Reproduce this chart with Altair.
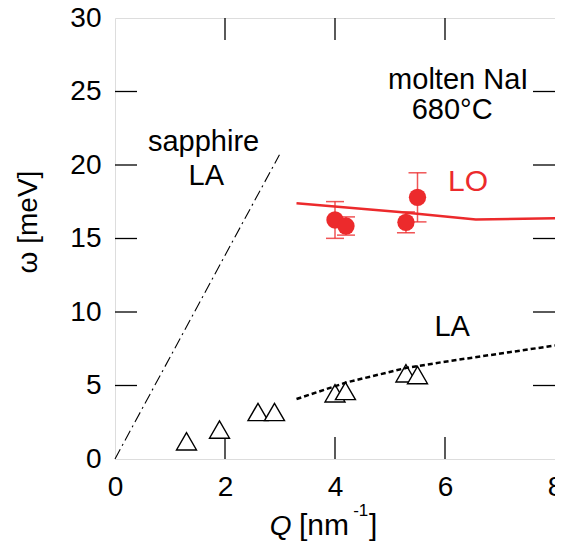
import altair as alt
import pandas as pd

# ---- data ----
lo_q = [4.0, 4.2, 5.29, 5.5]
lo_w = [16.26, 15.85, 16.1, 17.8]
lo_err = [1.25, 0.62, 0.71, 1.67]

la_q = [1.3, 1.9, 2.6, 2.9, 4.0, 4.19, 5.29, 5.5]
la_w = [1.2, 2.0, 3.2, 3.2, 4.47, 4.63, 5.83, 5.71]

lo_line_q = [3.3, 5.17, 6.56, 8.0]
lo_line_w = [17.4, 16.8, 16.3, 16.37]

la_line_q = [3.3, 4.2, 5.3, 6.0, 8.0]
la_line_w = [4.08, 5.2, 6.2, 6.62, 7.72]

sap_q = [0.0, 2.99]
sap_w = [0.0, 20.7]

x_tick_vals = [0, 2, 4, 6, 8]
y_tick_vals = [0, 5, 10, 15, 20, 25, 30]
x_inner_ticks = [2, 4, 6]
y_inner_ticks = [5, 10, 15, 20, 25]

ann_text = ["molten NaI", "680°C", "sapphire", "LA", "LA"]
ann_q = [6.24, 6.13, 1.61, 1.66, 6.13]
ann_w = [25.2, 23.1, 20.95, 18.64, 8.37]

lo_label = ["LO"]
lo_label_q = [6.42]
lo_label_w = [18.2]

RED = "#EC2A2C"
FONT = "Liberation Sans"
W, H = 440, 441

xs = alt.Scale(domain=[0, 8], nice=False, zero=False)
ys = alt.Scale(domain=[0, 30], nice=False, zero=False)
xaxis = alt.Axis(values=x_tick_vals, ticks=False, domain=False, grid=False,
                 labelFontSize=28, labelFont=FONT, labelColor="black",
                 labelPadding=14, title=None, labelFlush=False)
yaxis = alt.Axis(values=y_tick_vals, ticks=False, domain=False, grid=False,
                 labelFontSize=28, labelFont=FONT, labelColor="black",
                 labelPadding=14, title=None)

def X(**kw):
    return alt.X("q:Q", scale=xs, axis=xaxis, **kw)

def Y(**kw):
    return alt.Y("w:Q", scale=ys, axis=yaxis, **kw)

lo_df = pd.DataFrame({"q": lo_q, "w": lo_w,
                      "lo": [w - e for w, e in zip(lo_w, lo_err)],
                      "hi": [w + e for w, e in zip(lo_w, lo_err)]})
la_df = pd.DataFrame({"q": la_q, "w": la_w})
lo_line_df = pd.DataFrame({"q": lo_line_q, "w": lo_line_w})
la_line_df = pd.DataFrame({"q": la_line_q, "w": la_line_w})
sap_df = pd.DataFrame({"q": sap_q, "w": sap_w})
xt_df = pd.DataFrame({"q": x_inner_ticks})
yt_df = pd.DataFrame({"w": y_inner_ticks})
ann_df = pd.DataFrame({"q": ann_q, "w": ann_w, "t": ann_text})
lo_lab_df = pd.DataFrame({"q": lo_label_q, "w": lo_label_w, "t": lo_label})

# axis titles as text (italic Q, superscript)
xt_parts = pd.DataFrame({"q": [3.21], "w": [-5.2], "t": ["Q"]})
xt_rest = pd.DataFrame({"q": [3.345], "w": [-5.2], "t": ["[nm"]})
xt_sup = pd.DataFrame({"q": [4.33], "w": [-3.9], "t": ["-1"]})
xt_close = pd.DataFrame({"q": [4.62], "w": [-5.2], "t": ["]"]})
yt_title = pd.DataFrame({"q": [-1.418], "w": [16.12], "t": ["ω [meV]"]})

# inner ticks
xtick_bot = alt.Chart(xt_df).mark_rule(color="black", strokeWidth=1.3).encode(
    x=X(), y=alt.value(H), y2=alt.value(H - 22))
xtick_top = alt.Chart(xt_df).mark_rule(color="black", strokeWidth=1.3).encode(
    x=X(), y=alt.value(0), y2=alt.value(22))
ytick_l = alt.Chart(yt_df).mark_rule(color="black", strokeWidth=1.3).encode(
    y=Y(), x=alt.value(0), x2=alt.value(22))
ytick_r = alt.Chart(yt_df).mark_rule(color="black", strokeWidth=1.3).encode(
    y=Y(), x=alt.value(W), x2=alt.value(W - 22))

sap = alt.Chart(sap_df).mark_line(color="black", strokeWidth=1.1,
                                  strokeDash=[11, 4, 2, 4]).encode(x=X(), y=Y())

lo_line = alt.Chart(lo_line_df).mark_line(color=RED, strokeWidth=2.5).encode(x=X(), y=Y())

err = alt.Chart(lo_df).mark_rule(color=RED, strokeWidth=1.5, opacity=0.8).encode(
    x=X(), y=alt.Y("lo:Q", scale=ys, axis=yaxis), y2="hi:Q")
cap_lo = alt.Chart(lo_df).mark_tick(color=RED, orient="horizontal", size=18,
                                    thickness=1.5, opacity=0.8).encode(
    x=X(), y=alt.Y("lo:Q", scale=ys, axis=yaxis))
cap_hi = alt.Chart(lo_df).mark_tick(color=RED, orient="horizontal", size=18,
                                    thickness=1.5, opacity=0.8).encode(
    x=X(), y=alt.Y("hi:Q", scale=ys, axis=yaxis))
lo_pts = alt.Chart(lo_df).mark_point(shape="circle", filled=True, color=RED,
                                     size=300, opacity=1).encode(x=X(), y=Y())

la_pts = alt.Chart(la_df).mark_point(shape="triangle-up", filled=True, fill="white",
                                     stroke="black", strokeWidth=1.4, size=400,
                                     opacity=1).encode(x=X(), y=Y())

la_line = alt.Chart(la_line_df).mark_line(color="black", strokeWidth=2.5,
                                          strokeDash=[5, 3]).encode(x=X(), y=Y())

ann = alt.Chart(ann_df).mark_text(font=FONT, fontSize=29, color="black",
                                  align="center", baseline="alphabetic").encode(
    x=X(), y=Y(), text="t:N")
lo_lab = alt.Chart(lo_lab_df).mark_text(font=FONT, fontSize=30, color=RED,
                                        align="center", baseline="alphabetic").encode(
    x=X(), y=Y(), text="t:N")

q_t = alt.Chart(xt_parts).mark_text(font=FONT, fontSize=28, fontStyle="italic",
                                    color="black", align="right",
                                    baseline="alphabetic").encode(x=X(), y=Y(), text="t:N")
rest_t = alt.Chart(xt_rest).mark_text(font=FONT, fontSize=30, color="black",
                                      align="left", baseline="alphabetic").encode(
    x=X(), y=Y(), text="t:N")
sup_t = alt.Chart(xt_sup).mark_text(font=FONT, fontSize=17, color="black",
                                    align="left", baseline="alphabetic").encode(
    x=X(), y=Y(), text="t:N")
close_t = alt.Chart(xt_close).mark_text(font=FONT, fontSize=30, color="black",
                                        align="left", baseline="alphabetic").encode(
    x=X(), y=Y(), text="t:N")
y_t = alt.Chart(yt_title).mark_text(font=FONT, fontSize=28, color="black",
                                    align="center", baseline="alphabetic",
                                    angle=270).encode(x=X(), y=Y(), text="t:N")

chart = alt.layer(
    xtick_bot, xtick_top, ytick_l, ytick_r,
    sap, lo_line, err, cap_lo, cap_hi, lo_pts, la_pts, la_line,
    ann, lo_lab, q_t, rest_t, sup_t, close_t, y_t,
).properties(
    width=W, height=H,
    autosize=alt.AutoSizeParams(type="none"),
    padding={"left": 107, "top": 10, "right": 0, "bottom": 86},
).configure_view(stroke="#222", strokeWidth=1.5).configure(background="white")

chart.save("out.html", embed_options={"renderer": "svg", "actions": False})
